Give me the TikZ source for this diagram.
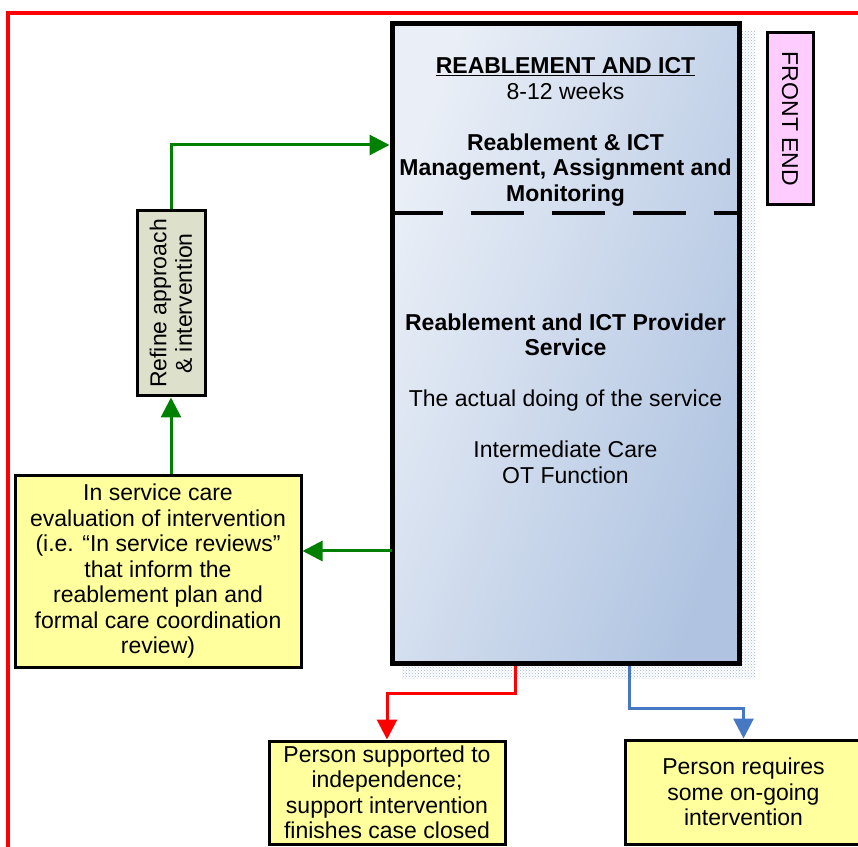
\documentclass[tikz,border=0pt]{standalone}
\usepackage{fontspec}
\setmainfont{Liberation Sans}
\usepackage{tikz}
\usetikzlibrary{positioning, arrows.meta, calc, patterns}
\definecolor{boxyellow}{RGB}{255, 255, 158}
\definecolor{refinegrey}{RGB}{221, 224, 202}
\definecolor{frontpink}{RGB}{255, 204, 255}
\definecolor{servlight}{RGB}{234, 239, 247}
\definecolor{servmid}{RGB}{198, 212, 234}
\definecolor{servdark}{RGB}{176, 196, 225}
\definecolor{shadowblue}{RGB}{157, 181, 222}
\definecolor{keygreen}{RGB}{0, 128, 0}
\definecolor{keyblue}{RGB}{70, 120, 196}
\tikzset{
  notebox/.style={draw=black, line width=3pt, fill=boxyellow, align=center, inner sep=2pt},
  sidebox/.style={draw=black, line width=3pt, align=center, inner sep=2pt},
  flow/.style={line width=3pt, -{Triangle[length=20pt, width=20pt]}},
}

\begin{document}
\begin{tikzpicture}[x=1pt, y=1pt, font=\fontsize{23}{25.5}\selectfont]
  \useasboundingbox (0,0) rectangle (858,846);
  \clip (0,0) rectangle (858,846);
  % red frame
  \draw[red, line width=4pt] (8,-10) -- (8,833) -- (870,833);
  % shadow and main service box
  \fill[pattern=crosshatch dots, pattern color=shadowblue] (402,168) rectangle (755,814);
  \node[draw=black, line width=5pt, minimum width=347pt, minimum height=639pt,
        top color=servlight, middle color=servmid, bottom color=servdark,
        shading angle=70] (service) at (565.5,502.5) {};
  \draw[line width=3.5pt, dash pattern=on 53pt off 28pt]
        (service.west |- 0,633) -- (service.east |- 0,633);
  \node[align=center] (mgmt) at (565.5,714)
        {\underline{\textbf{REABLEMENT AND ICT}}\\8-12 weeks\\[25.5pt]
         \textbf{Reablement \& ICT}\\\textbf{Management, Assignment and}\\\textbf{Monitoring}};
  \node[align=center] (provider) at (565.5,447.5)
        {\textbf{Reablement and ICT Provider}\\\textbf{Service}\\[25.5pt]
         The actual doing of the service\\[25.5pt]Intermediate Care\\OT Function};
  % side boxes
  \node[sidebox, fill=frontpink, rotate=-90, minimum width=172pt, minimum height=46pt]
        (frontend) at (790,727) {FRONT END};
  \node[sidebox, fill=refinegrey, rotate=90, minimum width=185pt, minimum height=68pt]
        (refine) at (171,542.5) {Refine approach\\\& intervention};
  % outcome boxes
  \node[notebox, minimum width=286pt, minimum height=191pt] (evaluation) at (158,274.5)
        {In service care\\evaluation of intervention\\(i.e. “In service reviews”\\that inform the\\
         reablement plan and\\formal care coordination\\review)};
  \node[notebox, minimum width=236pt, minimum height=103pt] (closed) at (387,53.5)
        {Person supported to\\independence;\\support intervention\\finishes case closed};
  \node[notebox, minimum width=237pt, minimum height=104pt] (ongoing) at (743.5,54)
        {Person requires\\some on-going\\intervention};
  % feedback loop
  \coordinate (reviewin) at (392,295);
  \draw[flow, keygreen] (reviewin) -- (reviewin -| evaluation.east);
  \draw[flow, keygreen] (refine.west |- evaluation.north) -- (refine.west);
  \draw[flow, keygreen] (refine.east) |- ([yshift=198.5pt]service.west);
  % exits
  \draw[flow, red] ([xshift=-50.5pt]service.south) -- ++(0,-28) -| (closed.north);
  \draw[flow, keyblue] ([xshift=63.5pt]service.south) -- ++(0,-42.5) -| (ongoing.north);
\end{tikzpicture}
\end{document}
